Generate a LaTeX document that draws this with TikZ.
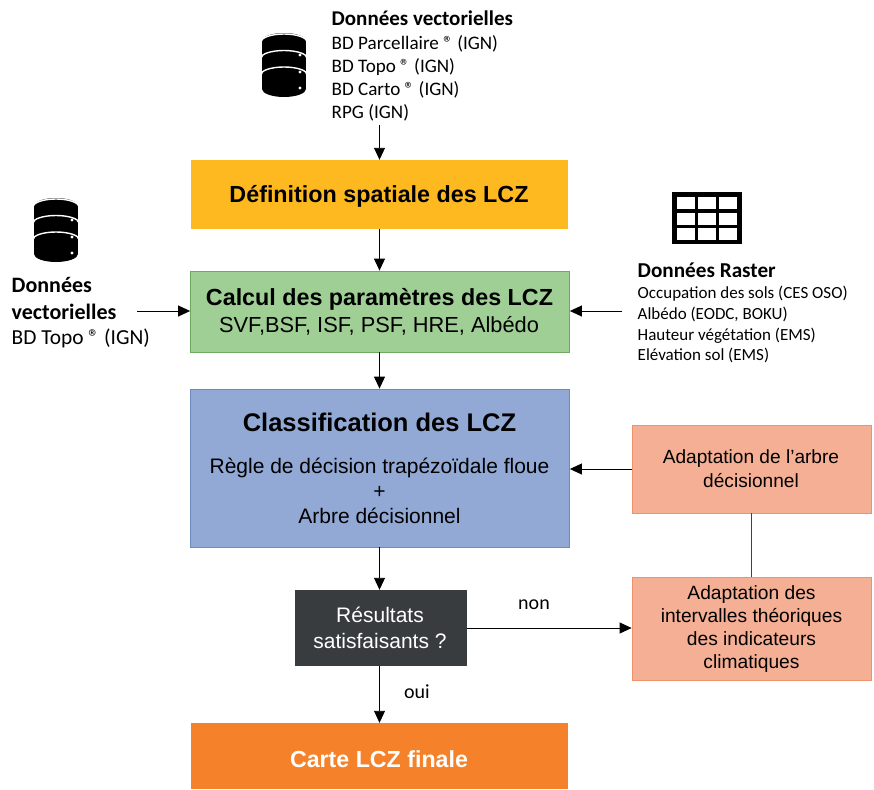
\documentclass[tikz,border=0pt]{standalone}
\usepackage{fontspec}
\setmainfont{Liberation Sans}
\newfontfamily\calib{Carlito}
\usetikzlibrary{arrows.meta}
\definecolor{cyellow}{HTML}{FDB91F}
\definecolor{cgreen}{HTML}{A0CF96}
\definecolor{cgreenb}{HTML}{6FA85F}
\definecolor{cblue}{HTML}{92A9D6}
\definecolor{cblueb}{HTML}{6C8CC0}
\definecolor{csalmon}{HTML}{F5AF94}
\definecolor{csalmonb}{HTML}{EE9269}
\definecolor{cdark}{HTML}{383C3F}
\definecolor{corange}{HTML}{F5822A}
\tikzset{
  x=1pt,y=-1pt,
  box/.style={minimum width=#1,inner sep=0pt,align=center,text=black},
  yellowbox/.style={box=377pt,minimum height=69pt,fill=cyellow},
  greenbox/.style={box=379pt,minimum height=81pt,fill=cgreen,draw=cgreenb,line width=.8pt},
  bluebox/.style={box=379pt,minimum height=158pt,fill=cblue,draw=cblueb,line width=.8pt},
  salmonbox/.style={box=239pt,fill=csalmon,draw=csalmonb,line width=.8pt},
  darkbox/.style={box=172pt,minimum height=76pt,fill=cdark},
  orangebox/.style={box=377pt,minimum height=66pt,fill=corange},
  txt/.style={inner sep=0pt,align=center},
  src/.style={inner sep=0pt,align=left,anchor=north west},
  plain/.style={inner sep=0pt,font=\calib\fontsize{20}{22}\selectfont},
  conn/.style={draw=black,line width=.9pt,-{Triangle[length=12pt,width=11pt]}},
  link/.style={draw=black!75,line width=1.2pt},
}
\newcommand{\dbicon}[2]{%
  \begin{scope}[shift={(#1,#2)}]
    \fill[black] (-22,-24) rectangle (22,24);
    \fill[black] (0,-24) ellipse[x radius=22,y radius=8];
    \fill[black] (0,24) ellipse[x radius=22,y radius=8];
    \draw[white,line width=1.4pt] (-23,-23) arc[start angle=180,end angle=360,x radius=23,y radius=8];
    \draw[white,line width=1.4pt] (-23,-7) arc[start angle=180,end angle=360,x radius=23,y radius=7.5];
    \draw[white,line width=1.4pt] (-23,9.5) arc[start angle=180,end angle=360,x radius=23,y radius=7.5];
    \fill[white] (16,-10) circle[radius=1.6] (16,7) circle[radius=1.6] (16,23) circle[radius=1.6];
  \end{scope}}
\begin{document}
\begin{tikzpicture}
\useasboundingbox (0,0) rectangle (874,789);
\node[yellowbox] (def) at (379.5,194.5) {};
\node[greenbox] (calc) at (380,311.5) {};
\node[bluebox] (class) at (380,468) {};
\node[salmonbox,minimum height=88pt] (arbre) at (751.5,469) {};
\node[salmonbox,minimum height=103pt] (inter) at (751.5,628.5) {};
\node[darkbox] (res) at (381,628) {};
\node[orangebox] (fin) at (379.5,756) {};

\node[txt,font=\bfseries\fontsize{23.3}{27}\selectfont] (deft) at (379,196) {Définition spatiale des LCZ};
\node[txt,font=\bfseries\fontsize{23.3}{27}\selectfont] (calct) at (379.5,299.5) {Calcul des paramètres des LCZ};
\node[txt,font=\fontsize{21.8}{26}\selectfont] (calcb) at (379,326) {SVF,BSF, ISF, PSF, HRE, Albédo};
\node[txt,font=\bfseries\fontsize{25.5}{30}\selectfont] (classt) at (379.5,422.5) {Classification des LCZ};
\node[txt,font=\fontsize{21}{25}\selectfont] (classb) at (379.5,491) {Règle de décision trapézoïdale floue\\+\\Arbre décisionnel};
\node[txt,font=\fontsize{19.1}{24}\selectfont] (arbret) at (751,469) {Adaptation de l'arbre\\décisionnel};
\node[txt,font=\fontsize{19.2}{22.8}\selectfont] (intert) at (751.5,629) {Adaptation des\\intervalles théoriques\\des indicateurs\\climatiques};
\node[txt,text=white,font=\fontsize{21}{26}\selectfont] (rest) at (380,628) {Résultats\\satisfaisants ?};
\node[txt,text=white,font=\bfseries\fontsize{23.2}{27}\selectfont] (fint) at (379,759) {Carte LCZ finale};

\node[src,font=\calib\fontsize{19.1}{23.2}\selectfont] (top) at (331.5,35) {BD Parcellaire ® (IGN)\\BD Topo ® (IGN)\\BD Carto ® (IGN)\\RPG (IGN)};
\node[src,font=\calib\bfseries\fontsize{21}{24}\selectfont] (topt) at (331.5,10.5) {Données vectorielles};
\node[src,font=\calib\bfseries\fontsize{22}{27.5}\selectfont] (leftt) at (11.5,277) {Données\\vectorielles};
\node[src,font=\calib\fontsize{21.4}{24}\selectfont] (left) at (11.5,329) {BD Topo ® (IGN)};
\node[src,font=\calib\bfseries\fontsize{21.2}{24}\selectfont] (rast) at (637.5,263) {Données Raster};
\node[src,font=\calib\fontsize{17}{20.7}\selectfont] (rastl) at (637.5,286) {Occupation des sols (CES OSO)\\Albédo (EODC, BOKU)\\Hauteur végétation (EMS)\\Elévation sol (EMS)};

\coordinate (topend) at (379.5,125);
\coordinate (leftend) at (137,311);
\coordinate (rightend) at (622,311);
\draw[conn] (topend) -- (def.north);
\draw[conn] (def.south) -- (calc.north -| def.south);
\draw[conn] (leftend) -- (leftend -| calc.west);
\draw[conn] (rightend) -- (rightend -| calc.east);
\draw[conn] (calc.south -| def.south) -- (class.north -| def.south);
\draw[conn] (arbre.west) -- (arbre.west -| class.east);
\draw[link] (arbre.south) -- (inter.north);
\draw[conn] (class.south -| def.south) -- (res.north -| def.south);
\draw[conn] (res.east) -- (inter.west |- res.east);
\draw[conn] (res.south -| def.south) -- (fin.north);
\node[plain] (non) at (534,605) {non};
\node[plain] (oui) at (417,692) {oui};

\dbicon{284}{65}
\dbicon{56}{230}
% raster grid icon
\fill[black] (672,192) rectangle (742,244);
\foreach \cx in {677,698,719}
  \foreach \cy in {197,213,228}
    \fill[white] (\cx,\cy) rectangle ++(17.5,11.5);
\end{tikzpicture}
\end{document}
